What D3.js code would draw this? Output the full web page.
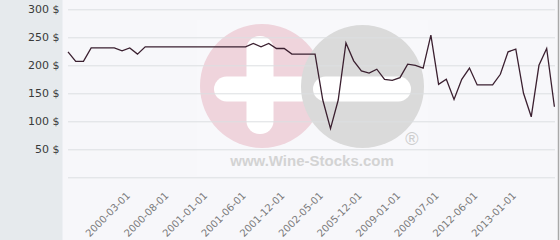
<!DOCTYPE html>
<html>
<head>
<meta charset="utf-8">
<script src="https://cdnjs.cloudflare.com/ajax/libs/d3/7.8.5/d3.min.js"></script>
<style>
  html, body { margin: 0; padding: 0; background: #f7f7fa; }
  svg { display: block; }
</style>
</head>
<body>
<svg width="560" height="240"></svg>
<script>
// dates on the x axis (categorical, not evenly spaced)
var dates = [
  "1999-07-01","1999-08-01","1999-09-01","1999-10-01","1999-11-01","1999-12-01","2000-01-01","2000-02-01",
  "2000-03-01","2000-04-01","2000-05-01","2000-06-01","2000-07-01","2000-08-01","2000-09-01","2000-10-01",
  "2000-11-01","2000-12-01","2001-01-01","2001-02-01","2001-03-01","2001-04-01","2001-05-01","2001-06-01",
  "2001-07-01","2001-08-01","2001-09-01","2001-10-01","2001-12-01","2002-01-01","2002-02-01","2002-03-01",
  "2002-04-01","2002-05-01","2003-01-01","2004-01-01","2005-01-01","2005-06-01","2005-12-01","2006-06-01",
  "2007-01-01","2007-06-01","2008-06-01","2009-01-01","2009-02-01","2009-03-01","2009-05-01","2009-06-01",
  "2009-07-01","2010-01-01","2010-07-01","2011-01-01","2011-07-01","2012-06-01","2012-07-01","2012-09-01",
  "2012-10-01","2012-12-01","2013-01-01","2013-03-01","2013-06-01","2013-09-01","2014-01-01","2014-06-01"
];
// price in $
var prix = [
  224, 207, 207, 231, 231, 231, 231, 226, 231, 220, 233, 233, 233, 233, 233, 233,
  233, 233, 233, 233, 233, 233, 233, 233, 239, 233, 239, 230, 230, 220, 220, 220,
  220, 138, 87, 138, 240, 208, 190, 186, 193, 175, 173, 178, 202, 200, 195, 254,
  166, 175, 139, 175, 195, 165, 165, 165, 184, 224, 229, 150, 108, 200, 230, 126
];
var ticksY = [0, 50, 100, 150, 200, 250, 300];
var datesAffichees = ["2000-03-01","2000-08-01","2001-01-01","2001-06-01","2001-12-01","2002-05-01",
  "2005-12-01","2009-01-01","2009-07-01","2012-06-01","2013-01-01"];

var svg = d3.select("svg");
var gauche = 68, droite = 555, haut = 9.3, bas = 177.3;

var x = d3.scalePoint().domain(dates).range([gauche, 554.4]);
var y = d3.scaleLinear().domain([0, 300]).range([bas, haut]);

// fonds
svg.append("rect").attr("x", 0).attr("y", 0).attr("width", 560).attr("height", 240).attr("fill", "#f7f7fa");
svg.append("rect").attr("x", 0).attr("y", 0).attr("width", 62.5).attr("height", 240).attr("fill", "#e6eaed");
svg.append("line").attr("x1", 558.5).attr("x2", 558.5).attr("y1", 0).attr("y2", 240)
  .attr("stroke", "#a8a8a8").attr("stroke-width", 1.5);

// filigrane
var wm = svg.append("g").attr("class", "filigrane");
wm.append("rect").attr("x", 197).attr("y", 20).attr("width", 231).attr("height", 156)
  .attr("fill", "#ffffff").attr("opacity", 0.2);
wm.append("circle").attr("cx", 262).attr("cy", 86).attr("r", 62).attr("fill", "#efd4dc");
wm.append("rect").attr("x", 246.5).attr("y", 36).attr("width", 27).attr("height", 98).attr("rx", 13)
  .attr("fill", "#ffffff");
wm.append("rect").attr("x", 214).attr("y", 76.5).attr("width", 100).attr("height", 25).attr("rx", 12.5)
  .attr("fill", "#ffffff");
wm.append("circle").attr("cx", 362.5).attr("cy", 86.5).attr("r", 61.5).attr("fill", "#dadada");
wm.append("rect").attr("x", 313).attr("y", 76.5).attr("width", 98).attr("height", 25).attr("rx", 12.5)
  .attr("fill", "#ffffff");
wm.append("text").attr("x", 412).attr("y", 144.5).attr("text-anchor", "middle")
  .style("font-family", "'Liberation Sans', Arial, sans-serif").style("font-size", "18px")
  .attr("fill", "#cdcdcd").text("®");
wm.append("text").attr("x", 312).attr("y", 166).attr("text-anchor", "middle")
  .style("font-family", "'Liberation Sans', Arial, sans-serif").style("font-size", "15px")
  .style("font-weight", "bold").attr("fill", "#d3d3d3").text("www.Wine-Stocks.com");

// grille
svg.append("g")
  .attr("transform", "translate(" + gauche + ",0)")
  .call(d3.axisLeft(y).tickValues(ticksY).tickSize(-(droite - gauche)).tickFormat(""))
  .call(function(g) { g.select(".domain").remove(); })
  .selectAll("line").attr("stroke", "#dcdfe2").attr("stroke-width", 1);

// axe y
svg.append("g")
  .attr("transform", "translate(" + gauche + ",0)")
  .call(d3.axisLeft(y).tickValues(ticksY.slice(1)).tickSize(0).tickPadding(8.5)
    .tickFormat(function(d) { return d + " $"; }))
  .call(function(g) { g.select(".domain").remove(); })
  .selectAll("text")
    .attr("dy", "0.25em")
    .style("font-family", "'DejaVu Sans', Verdana, sans-serif")
    .style("font-size", "11px")
    .attr("fill", "#3a3a3a");

// axe x
svg.append("g")
  .attr("transform", "translate(0," + bas + ")")
  .call(d3.axisBottom(x).tickValues(datesAffichees).tickSize(0))
  .call(function(g) { g.select(".domain").remove(); })
  .selectAll("text")
    .attr("x", 0).attr("y", 0).attr("dy", "0")
    .attr("text-anchor", "end")
    .attr("transform", "translate(0.5,19) rotate(-45)")
    .style("font-family", "'DejaVu Sans', Verdana, sans-serif")
    .style("font-size", "10px")
    .attr("fill", "#7a7a7a");

// courbe
var ligne = d3.line()
  .x(function(d, i) { return x(dates[i]); })
  .y(function(d) { return y(d); });

svg.append("path")
  .datum(prix)
  .attr("d", ligne)
  .attr("fill", "none")
  .attr("stroke", "#3b2030")
  .attr("stroke-width", 1.3)
  .attr("stroke-linejoin", "miter");
</script>
</body>
</html>
